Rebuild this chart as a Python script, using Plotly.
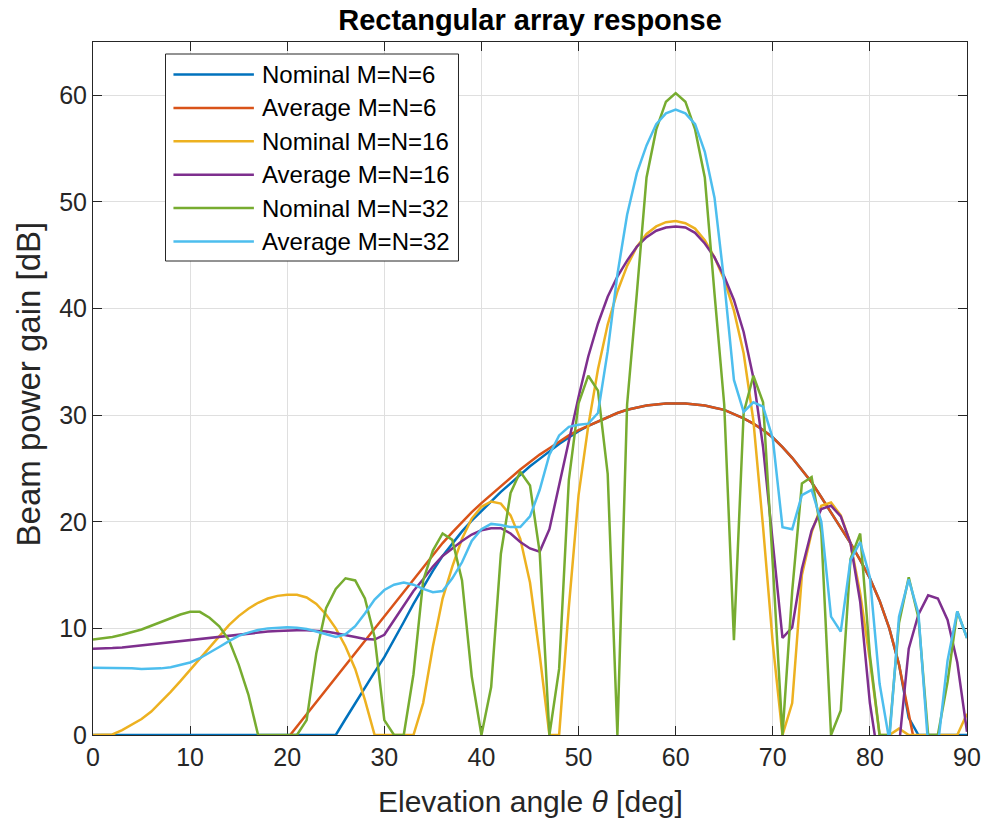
import plotly.graph_objects as go

theta = list(range(0, 91))

series_names = ["Nominal M=N=6", "Average M=N=6", "Nominal M=N=16",
                "Average M=N=16", "Nominal M=N=32", "Average M=N=32"]
series_colors = ["#0072BD", "#D95319", "#EDB120", "#7E2F8E", "#77AC30", "#4DBEEE"]

nominal_6 = [0]*25 + [
    0, 1.5, 3.0, 4.5, 5.9, 7.3, 8.9, 10.6, 12.3, 13.9,
    15.4, 16.8, 18.0, 19.1, 20.1, 21.0, 21.9, 22.8, 23.6, 24.4,
    25.2, 25.9, 26.6, 27.3, 27.9, 28.5, 29.0, 29.4, 29.8, 30.2,
    30.5, 30.7, 30.9, 31.0, 31.1, 31.1, 31.1, 31.0, 30.9, 30.7,
    30.5, 30.1, 29.7, 29.2, 28.6, 27.9, 27.0, 26.0, 24.9, 23.7,
    22.3, 20.9, 19.5, 18.0, 16.4, 14.7, 12.6, 10.0, 6.6, 1.6,
    0, 0, 0, 0, 0, 0]

average_6 = [None]*20 + [
    -0.35, 0.8, 1.95, 3.1, 4.25, 5.4, 6.55, 7.7, 8.85, 10.0,
    11.15, 12.3, 13.45, 14.6, 15.8, 16.95, 18.0, 19.0, 20.0, 20.9,
    21.75, 22.55, 23.35, 24.1, 24.9, 25.6, 26.3, 26.9, 27.5, 28.1,
    28.6, 29.0, 29.4, 29.8, 30.2, 30.5, 30.7, 30.9, 31.0, 31.1,
    31.1, 31.1, 31.0, 30.9, 30.7, 30.5, 30.1, 29.7, 29.2, 28.6,
    27.9, 27.0, 26.0, 24.9, 23.7, 22.3, 20.9, 19.5, 18.0, 16.4,
    14.7, 12.6, 10.0, 6.6, 1.8, -2.6, None, None, None, None, None]

nominal_16 = [
    0, 0, 0.05, 0.45, 0.95, 1.5, 2.2, 3.1, 4.05, 5.05,
    6.1, 7.2, 8.25, 9.3, 10.3, 11.15, 11.85, 12.4, 12.8, 13.05,
    13.15, 13.15, 12.9, 12.3, 11.3, 10.0, 8.3, 6.2, 3.3, 0,
    0, 0, 0, 0, 3.0, 8.3, 12.8, 15.8, 18.4, 20.3,
    21.4, 21.9, 21.7, 20.6, 18.4, 14.3, 7.5, 0, 0, 12.0,
    22.5, 29.0, 34.3, 38.5, 41.6, 44.0, 45.8, 47.0, 47.7, 48.1,
    48.2, 48.0, 47.5, 46.4, 44.8, 42.7, 39.8, 35.8, 29.5, 19.5,
    8.6, 0, 3.0, 15.0, 19.0, 21.5, 21.8, 20.6, 18.0, 13.3,
    7.0, 0, 0, 0.6, 0, 0, 0, 0, 0, 0,
    2.0]

average_16 = [
    8.1, 8.1, 8.15, 8.2, 8.3, 8.4, 8.5, 8.6, 8.7, 8.8,
    8.95, 9.05, 9.15, 9.25, 9.35, 9.45, 9.55, 9.6, 9.7, 9.75,
    9.8, 9.82, 9.82, 9.78, 9.7, 9.55, 9.4, 9.2, 9.0, 8.95,
    9.4, 10.8, 12.2, 13.5, 14.6, 15.8, 16.8, 17.5, 18.2, 18.8,
    19.2, 19.4, 19.4, 18.9, 18.1, 17.5, 17.2, 19.3, 23.5, 27.6,
    31.7, 35.5, 38.6, 41.1, 43.0, 44.5, 45.8, 46.7, 47.3, 47.6,
    47.7, 47.6, 47.1, 46.1, 44.8, 43.0, 40.8, 37.8, 33.5, 27.0,
    17.8, 9.1, 10.1, 15.6, 19.2, 21.2, 21.5, 20.5, 18.0, 12.5,
    3.0, -3.0, None, -1.0, 8.1, 11.3, 13.1, 12.8, 10.8, 6.8,
    0.3]

nominal_32 = [
    8.95, 9.05, 9.2, 9.4, 9.65, 9.9, 10.25, 10.6, 10.95, 11.3,
    11.55, 11.55, 11.0, 10.2, 8.9, 6.6, 3.8, 0, 0, 0,
    0, 0, 1.4, 7.7, 11.9, 13.7, 14.7, 14.5, 12.8, 9.2,
    1.4, 0, 0, 5.7, 14.5, 17.3, 18.9, 18.3, 14.5, 5.5,
    0, 4.5, 17.0, 22.7, 24.7, 23.4, 17.1, 0, 6.2, 23.9,
    31.1, 33.7, 32.3, 24.5, 0, 31.0, 41.4, 52.3, 56.8, 59.4,
    60.2, 59.4, 56.8, 52.3, 41.4, 31.0, 8.9, 30.2, 33.7, 31.2,
    16.0, 0, 13.5, 23.6, 24.2, 19.0, 0, 2.3, 16.5, 18.9,
    7.5, 0, 0, 10.5, 14.8, 11.0, 0, 0, 5.0, 11.6,
    9.1]

average_32 = [
    6.3, 6.3, 6.3, 6.25, 6.25, 6.2, 6.2, 6.25, 6.35, 6.55,
    6.8, 7.2, 7.7, 8.25, 8.8, 9.3, 9.6, 9.85, 10.0, 10.05,
    10.1, 10.05, 9.95, 9.7, 9.45, 9.2, 9.45, 10.2, 11.4, 12.7,
    13.6, 14.1, 14.3, 14.1, 13.7, 13.4, 13.5, 14.7, 16.2, 18.2,
    19.3, 19.8, 19.7, 19.5, 19.5, 20.5, 23.0, 26.3, 28.1, 28.9,
    29.1, 29.2, 30.2, 36.0, 43.2, 48.8, 52.7, 55.3, 57.3, 58.3,
    58.65, 58.3, 57.3, 54.7, 50.4, 42.5, 33.3, 30.3, 31.2, 30.8,
    27.8, 19.5, 19.3, 22.5, 23.0, 20.0, 11.1, 9.7, 16.4, 18.1,
    14.8, 4.8, -0.5, 11.1, 14.6, 11.4, -1.0, -1.0, 7.0, 11.6,
    9.1]

x_ticks = [0, 10, 20, 30, 40, 50, 60, 70, 80, 90]
y_ticks = [0, 10, 20, 30, 40, 50, 60]

all_series = [nominal_6, average_6, nominal_16, average_16, nominal_32, average_32]

FONT = "Liberation Sans, Arial, Helvetica, sans-serif"
AX = "#262626"

fig = go.Figure()
for name, col, ys in zip(series_names, series_colors, all_series):
    fig.add_trace(go.Scatter(x=theta, y=ys, mode="lines", name=name,
                             line=dict(color=col, width=2.5), showlegend=False))

# target plot area geometry in page pixels (page has an 8px body margin)
OFF = 8
L, R, T, B = 93, 973, 42, 735
W, H = R - L, B - T
FIG_W, FIG_H = 993 - OFF, 822 - OFF

def px(xp):
    return (xp - L) / W

def py(yp):
    return (B - yp) / H

shapes = []
annotations = []
# custom legend box
shapes.append(dict(type="rect", xref="paper", yref="paper",
                   x0=px(166), x1=px(461), y0=py(261), y1=py(54),
                   line=dict(color=AX, width=1), fillcolor="white", layer="above"))
for i, (name, col) in enumerate(zip(series_names, series_colors)):
    yc = 74.5 + 33.4 * i
    shapes.append(dict(type="line", xref="paper", yref="paper",
                       x0=px(174), x1=px(255), y0=py(yc), y1=py(yc),
                       line=dict(color=col, width=2.5), layer="above"))
    annotations.append(dict(xref="paper", yref="paper", x=px(261), y=py(yc),
                            text=name, showarrow=False, xanchor="left",
                            yanchor="middle", font=dict(family=FONT, size=24, color="black")))

annotations.append(dict(xref="paper", yref="paper", x=0.5, y=py(801),
                        text="Elevation angle <i>θ</i> [deg]", showarrow=False,
                        xanchor="center", yanchor="middle",
                        font=dict(family=FONT, size=30, color=AX)))
annotations.append(dict(xref="paper", yref="paper", x=px(28), y=py(384),
                        text="Beam power gain [dB]", showarrow=False, textangle=-90,
                        xanchor="center", yanchor="middle",
                        font=dict(family=FONT, size=33, color=AX)))

axis_common = dict(showline=True, linecolor=AX, linewidth=1, mirror="ticks",
                   ticks="inside", ticklen=9, tickcolor=AX, tickwidth=1,
                   showgrid=True, gridcolor="#dfdfdf", gridwidth=1,
                   zeroline=False, layer="below traces",
                   tickfont=dict(family=FONT, size=25, color=AX))

fig.update_layout(
    width=FIG_W, height=FIG_H,
    margin=dict(l=L - OFF, r=993 - R, t=T - OFF, b=822 - B),
    paper_bgcolor="white", plot_bgcolor="white",
    title=dict(text="<b>Rectangular array response</b>", x=px(533), xref="paper",
               xanchor="center", y=1 - (20 - OFF) / FIG_H, yref="container",
               yanchor="middle", font=dict(family=FONT, size=29, color="black")),
    xaxis=dict(range=[0, 90], tickvals=x_ticks, **axis_common),
    yaxis=dict(range=[0, 65], tickvals=y_ticks, **axis_common),
    shapes=shapes, annotations=annotations, showlegend=False,
)

fig.write_html("out.html")
